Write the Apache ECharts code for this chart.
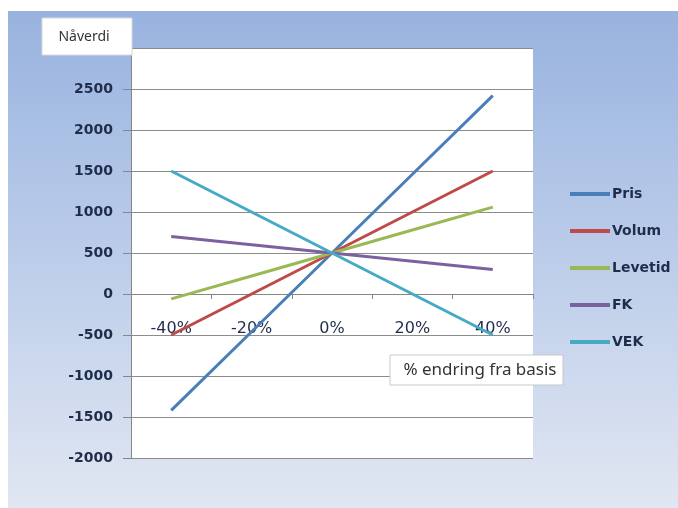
<!DOCTYPE html>
<html>
<head>
<meta charset="utf-8">
<title>Nåverdi – sensitivitet</title>
<script src="https://cdn.jsdelivr.net/npm/echarts@6/dist/echarts.min.js"></script>
<style>
  html, body { margin: 0; padding: 0; background: #ffffff; }
  #chart { width: 678px; height: 508px; }
</style>
</head>
<body>
<div id="chart"></div>
<script>
// Endring i forhold til basis (kategoriakse)
const categories = ['-40%', '-20%', '0%', '20%', '40%'];

// Nåverdi for hver driver
const pris    = [-1420, -460, 500, 1460, 2420];
const volum   = [-500, 0, 500, 1000, 1500];
const levetid = [-60, 220, 500, 780, 1060];
const fk      = [700, 600, 500, 400, 300];
const vek     = [1500, 1000, 500, 0, -500];

const seriesNames = ['Pris', 'Volum', 'Levetid', 'FK', 'VEK'];
const seriesData  = [pris, volum, levetid, fk, vek];
const seriesColors = ['#4a7ebb', '#be4b48', '#98b954', '#7d60a0', '#46aac5'];

// Verdiakse
const yMin = -2000, yMax = 3000, yStep = 500;

// Plotteområde
const gridTop = 48, gridHeight = 410;
// Kategoriaksen krysser verdiaksen i 0: flytt den opp fra bunnen av plotteområdet
const zeroFromBottom = gridHeight * (0 - yMin) / (yMax - yMin);

const labelFont = 'DejaVu Sans';
const textColor = '#1f2d4a';

const chart = echarts.init(document.getElementById('chart'), null, { renderer: 'canvas' });

chart.setOption({
  backgroundColor: '#ffffff',
  animation: false,
  graphic: [
    {
      type: 'rect', z: -10, silent: true,
      shape: { x: 8, y: 11, width: 670, height: 497 },
      style: {
        fill: {
          type: 'linear', x: 0, y: 0, x2: 0, y2: 1,
          colorStops: [
            { offset: 0, color: '#98b3df' },
            { offset: 0.5, color: '#bccdea' },
            { offset: 1, color: '#e1e7f2' }
          ]
        }
      }
    },
    { type: 'rect', z: 100, zlevel: 1, shape: { x: 42, y: 18, width: 90, height: 37 },
      style: { fill: '#ffffff', stroke: '#d9d9d9', lineWidth: 1 } },
    { type: 'text', z: 101, zlevel: 1, x: 84, y: 37,
      style: { text: 'Nåverdi', fill: '#333333', font: '14px "Noto Sans"',
               align: 'center', verticalAlign: 'middle' } },
    { type: 'rect', z: 100, zlevel: 1, shape: { x: 390, y: 355, width: 173, height: 30 },
      style: { fill: '#ffffff', stroke: '#c8c8c8', lineWidth: 1 } },
    { type: 'text', z: 101, zlevel: 1, x: 480, y: 370,
      style: { text: '% endring fra basis', fill: '#333333', font: '17px "Noto Sans"',
               align: 'center', verticalAlign: 'middle' } }
  ],
  grid: {
    left: 131, top: gridTop, width: 402, height: gridHeight,
    show: true, backgroundColor: '#ffffff', borderWidth: 0,
    containLabel: false
  },
  legend: {
    orient: 'vertical',
    left: 565, top: 182,
    icon: 'rect',
    itemWidth: 40, itemHeight: 4,
    itemGap: 23,
    data: seriesNames,
    textStyle: { fontFamily: labelFont, fontSize: 14, fontWeight: 'bold', color: textColor, padding: [0, 0, 0, -3] }
  },
  xAxis: {
    type: 'category',
    data: categories,
    boundaryGap: true,
    offset: -zeroFromBottom,
    axisLine: { onZero: false, lineStyle: { color: '#868686', width: 1 } },
    axisTick: { show: true, length: 5, lineStyle: { color: '#868686' } },
    axisLabel: { margin: 27, fontFamily: labelFont, fontSize: 16, color: textColor }
  },
  yAxis: {
    type: 'value',
    min: yMin, max: yMax, interval: yStep,
    axisLine: { show: true, onZero: false, lineStyle: { color: '#868686', width: 1 } },
    axisTick: { show: true, length: 8, lineStyle: { color: '#868686' } },
    splitLine: { show: true, lineStyle: { color: '#8c8c8c', width: 1 } },
    axisLabel: { margin: 18, fontFamily: labelFont, fontSize: 14, fontWeight: 'bold', color: textColor,
                 formatter: v => String(v) }
  },
  series: seriesNames.map((name, i) => ({
    name: name,
    type: 'line',
    data: seriesData[i],
    symbol: 'none',
    lineStyle: { width: 3, color: seriesColors[i] },
    itemStyle: { color: seriesColors[i] },
    z: 2 + i
  }))
});
</script>
</body>
</html>
